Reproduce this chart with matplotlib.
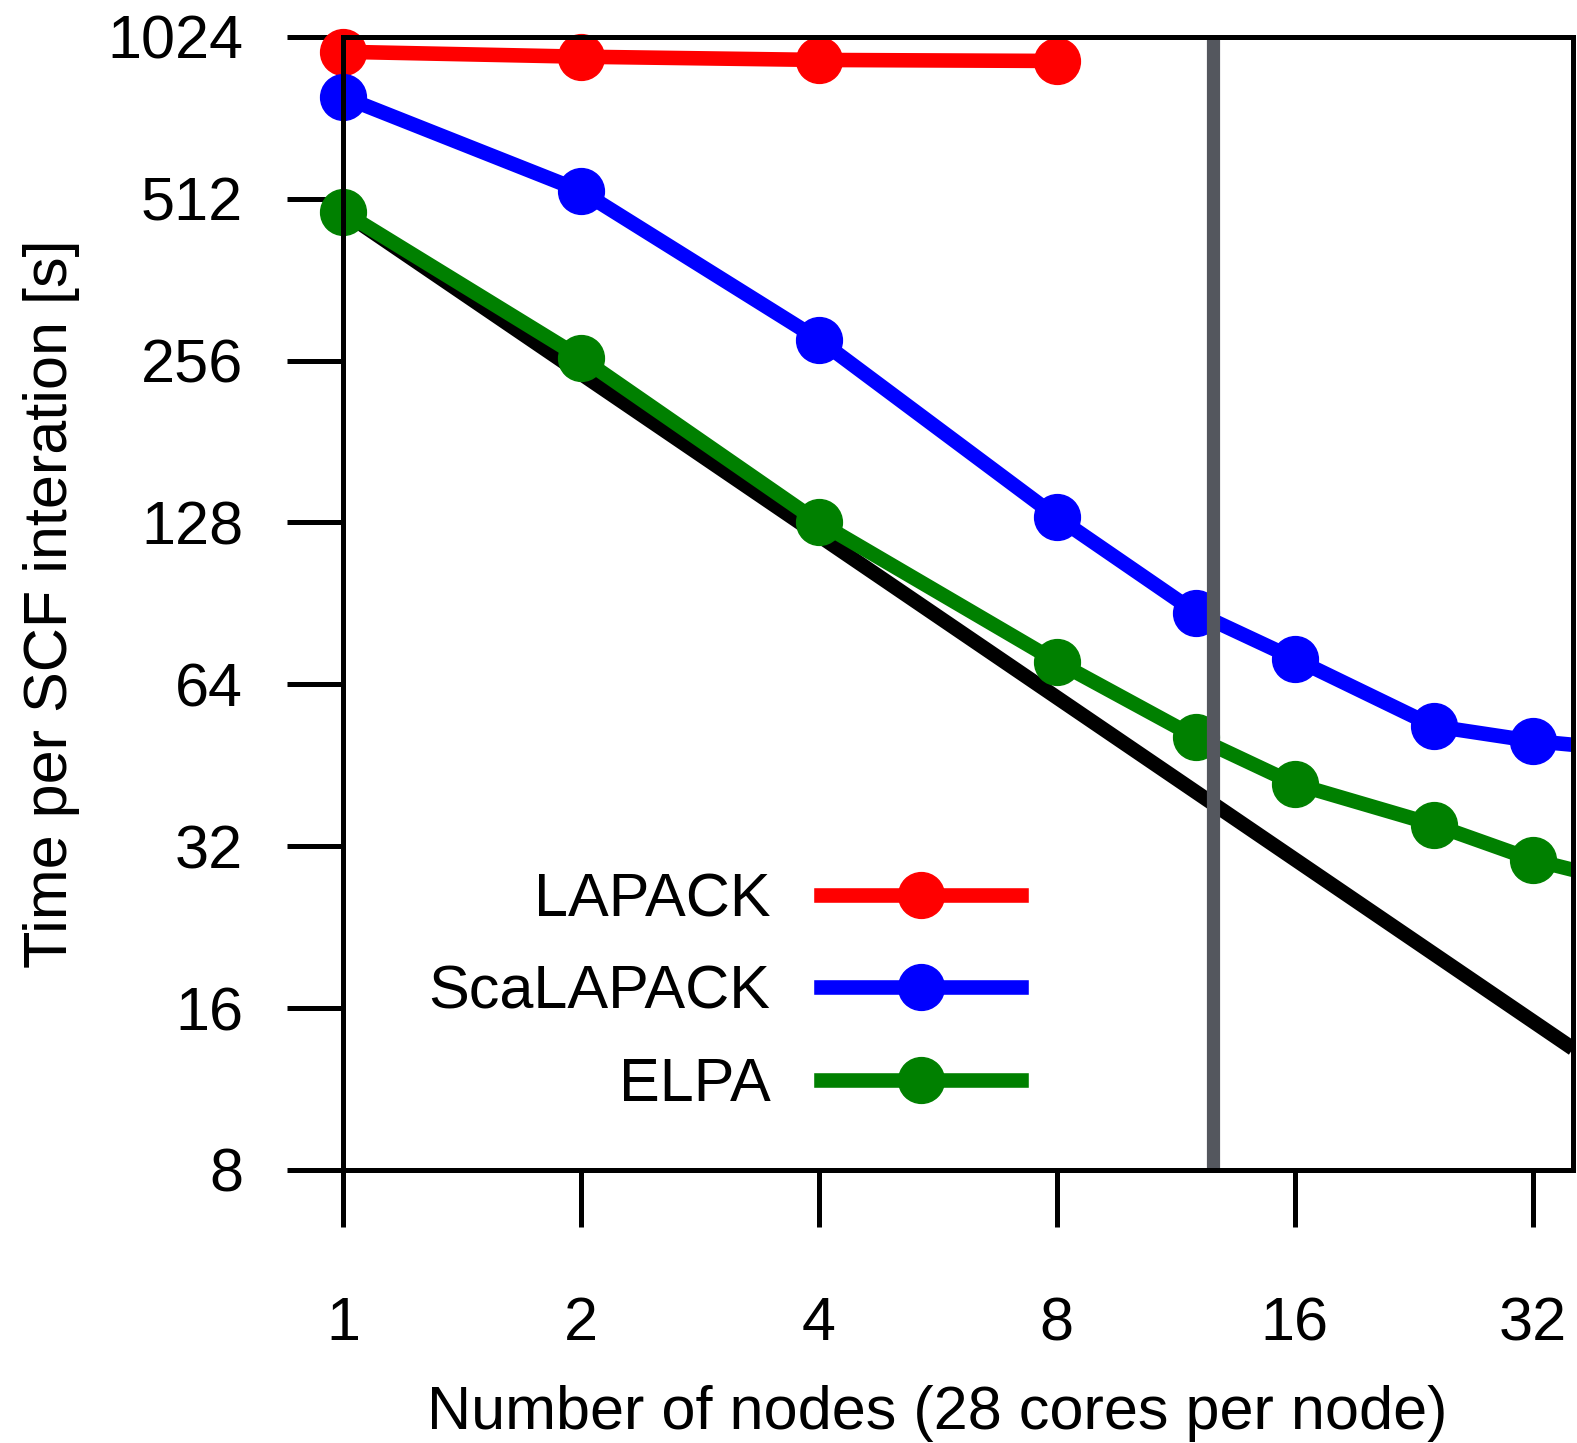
import matplotlib
matplotlib.use("Agg")
import matplotlib.pyplot as plt
from matplotlib.ticker import FixedLocator, FixedFormatter, NullLocator

# ---- data ----
nodes_lapack = [1, 2, 4, 8]
time_lapack = [960, 940, 927, 923]
nodes_par = [1, 2, 4, 8, 12, 16, 24, 32, 48]
time_scalapack = [792, 529, 280, 131, 87, 71.4, 53.5, 50.2, 47.5]
time_elpa = [484, 259, 128, 70.5, 51, 41.8, 35.1, 30.2, 26]
ideal_nodes = [1, 36]
ideal_time = [484, 13.45]
marker_line_x = 12.6
xticks = [1, 2, 4, 8, 16, 32]
xticklabels = ["1", "2", "4", "8", "16", "32"]
yticks = [8, 16, 32, 64, 128, 256, 512, 1024]
yticklabels = ["8", "16", "32", "64", "128", "256", "512", "1024"]

plt.rcParams['font.family'] = ['Liberation Sans', 'DejaVu Sans']
FS = 44

W, H = 1577, 1443
fig = plt.figure(figsize=(W / 100, H / 100), dpi=100)
left, right = 343 / W, 1573 / W
top, bottom = 1 - 36.7 / H, 1 - 1170 / H
ax = fig.add_axes([left, bottom, right - left, top - bottom])
ax.set_xscale('log', base=2)
ax.set_yscale('log', base=2)
ax.set_xlim(1, 36)
ax.set_ylim(8, 1024)

LW = 10.5
MS = 33

ax.plot(ideal_nodes, ideal_time, color='black', lw=LW, solid_capstyle='butt', zorder=2)

series = [
    ("LAPACK", nodes_lapack, time_lapack, '#ff0000'),
    ("ScaLAPACK", nodes_par, time_scalapack, '#0000ff'),
    ("ELPA", nodes_par, time_elpa, '#008000'),
]
handles = []
for i, (name, xs, ys, c) in enumerate(series):
    ax.plot(xs, ys, color=c, lw=LW, zorder=3 + i)
    ax.plot(xs, ys, color=c, lw=0, marker='o', ms=MS, clip_on=False, zorder=3 + i)
    h, = ax.plot([], [], color=c, lw=LW, marker='o', ms=MS, label=name)
    handles.append(h)

ax.axvline(marker_line_x, color='#54575e', lw=9.5, zorder=10)

for s in ax.spines.values():
    s.set_linewidth(3.6)
    s.set_zorder(11)

ax.xaxis.set_major_locator(FixedLocator(xticks))
ax.xaxis.set_major_formatter(FixedFormatter(xticklabels))
ax.xaxis.set_minor_locator(NullLocator())
ax.yaxis.set_major_locator(FixedLocator(yticks))
ax.yaxis.set_major_formatter(FixedFormatter(yticklabels))
ax.yaxis.set_minor_locator(NullLocator())
ax.tick_params(axis='x', direction='out', length=41, width=3.6, pad=50, labelsize=FS)
ax.tick_params(axis='y', direction='out', length=40, width=3.6, pad=32, labelsize=FS)
ax.tick_params(top=False, right=False)

ax.set_xlabel("Number of nodes (28 cores per node)", fontsize=FS, va='center')
ax.xaxis.set_label_coords((937 - 343) / 1230, (1170 - 1413) / (1170 - 36.7))
ax.set_ylabel("Time per SCF interation [s]", fontsize=FS, va='center')
ax.yaxis.set_label_coords((52 - 343) / 1230, 0.5)

leg = ax.legend(handles=handles, loc='center right', frameon=False, markerfirst=False,
                fontsize=FS, handlelength=3.27, handletextpad=0.83, labelspacing=0.58,
                borderpad=0, borderaxespad=0,
                bbox_to_anchor=(1021 / W, 1 - 993 / H), bbox_transform=fig.transFigure)
leg.set_zorder(12)

fig.savefig("out.png", dpi=100)
